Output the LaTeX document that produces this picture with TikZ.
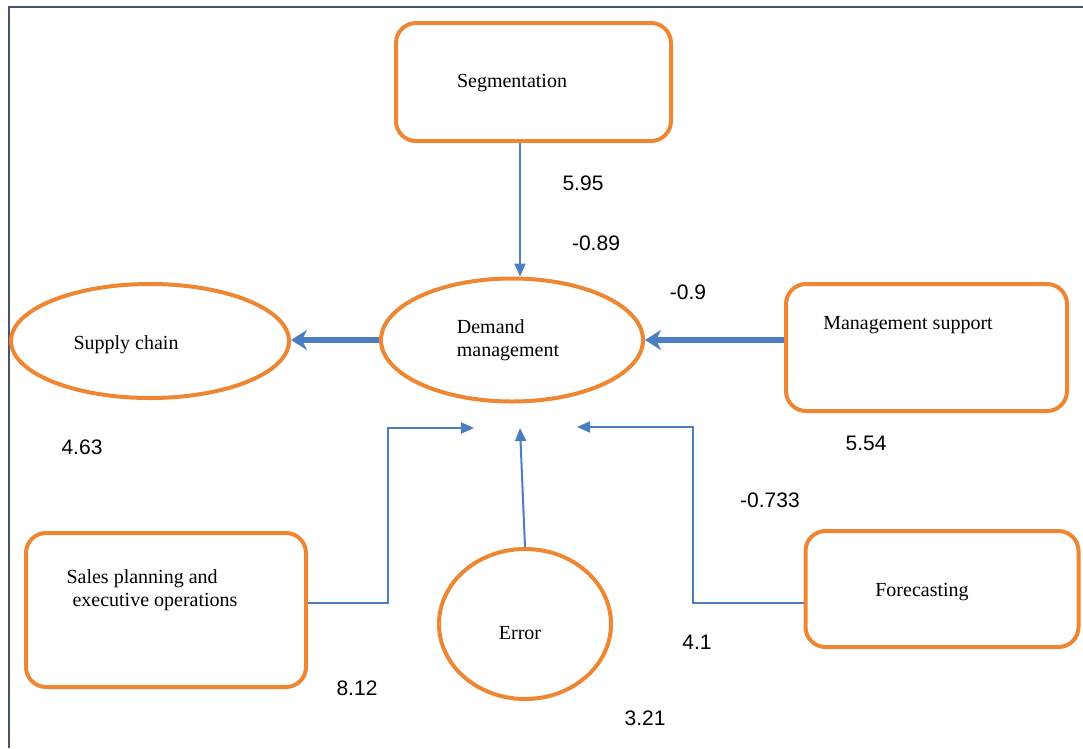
\documentclass[tikz,border=0pt]{standalone}
\usepackage{fontspec}
\setmainfont{Liberation Serif}
\newfontfamily\numfont{Liberation Sans}
\usetikzlibrary{arrows.meta,shapes.geometric}
\definecolor{boxorange}{RGB}{238,135,52}
\definecolor{arrblue}{RGB}{74,126,192}
\definecolor{framecol}{RGB}{72,84,112}
\tikzset{
  rbox/.style={draw=boxorange,line width=4pt,rounded corners=20pt,fill=white},
  ell/.style={draw=boxorange,line width=4pt,ellipse,fill=white,inner sep=0pt},
  lbl/.style={font=\fontsize{20}{23}\selectfont,align=left,inner sep=0pt},
  num/.style={font=\numfont\fontsize{21}{24}\selectfont,inner sep=0pt},
  thin/.style={draw=arrblue,line width=2pt,-{Triangle[length=13pt,width=11pt]}},
  thick/.style={draw=arrblue,line width=6pt,-{Stealth[length=16pt,width=20pt,inset=5pt]}},
}
\begin{document}
\begin{tikzpicture}[x=1pt,y=-1pt]
\useasboundingbox (0,0) rectangle (1083,748);
\fill[white] (0,0) rectangle (1083,748);
\draw[framecol,line width=2.5pt] (9,748) -- (9,7) -- (1083,7);

% nodes
\node[rbox,minimum width=275pt,minimum height=118pt] (seg) at (533.5,82) {};
\node[lbl] (segt) at (512,83) {Segmentation};
\node[ell,minimum width=262pt,minimum height=123pt] (dm) at (512,340) {};
\node[lbl,align=left] (dmt) at (508,340) {Demand\\management};
\node[ell,minimum width=278pt,minimum height=114pt] (sc) at (150,341) {};
\node[lbl] (sct) at (126,345) {Supply chain};
\node[rbox,minimum width=281pt,minimum height=127pt] (ms) at (926.5,347.5) {};
\node[lbl] (mst) at (908,325) {Management support};
\node[rbox,minimum width=280pt,minimum height=154pt] (sp) at (166,610) {};
\node[lbl] (spt) at (152,590) {Sales planning and\\\hspace*{6pt}executive operations};
\node[ell,minimum width=172pt,minimum height=150pt] (err) at (525,624) {};
\node[lbl] (errt) at (520,633) {Error};
\node[rbox,minimum width=273pt,minimum height=116pt] (fc) at (942,589) {};
\node[lbl] (fct) at (922,592) {Forecasting};

% connectors
\coordinate (spend) at (474,428);
\coordinate (errend) at (520,428);
\coordinate (fcend) at (577,427);
\draw[thin] (seg.south -| 520,0) -- (dm.north -| 520,0);
\draw[thick] (dm.west) -- (sc.east |- dm.west);
\draw[thick] (ms.west |- dm.east) -- (dm.east);
\draw[thin] (sp.east |- 0,603) -- (388,603) -- (388,428) -- (spend);
\draw[thin] (err.north) -- (errend);
\draw[thin] (fc.west |- 0,603) -- (693,603) -- (693,427) -- (fcend);

% numbers
\node[num] (n1) at (583,183) {5.95};
\node[num] (n2) at (596,243) {-0.89};
\node[num] (n3) at (688,292) {-0.9};
\node[num] (n4) at (866,443) {5.54};
\node[num] (n5) at (82,447) {4.63};
\node[num] (n6) at (770,500) {-0.733};
\node[num] (n7) at (697,642) {4.1};
\node[num] (n8) at (357,688) {8.12};
\node[num] (n9) at (645,718) {3.21};
\end{tikzpicture}
\end{document}
